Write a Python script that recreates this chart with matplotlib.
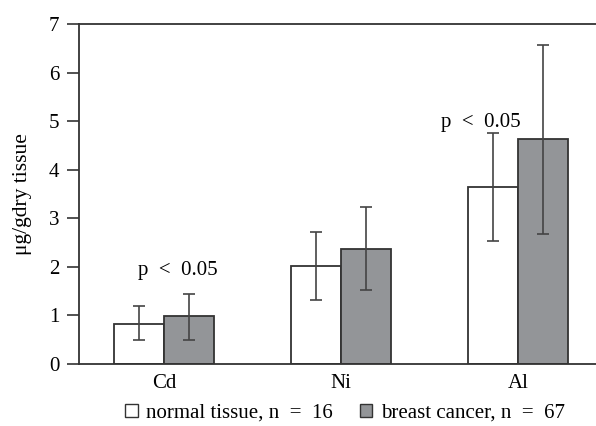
import matplotlib
matplotlib.use("Agg")
import matplotlib.pyplot as plt
import numpy as np
from matplotlib.patches import Patch

categories = ["Cd", "Ni", "Al"]
normal_vals = [0.83, 2.02, 3.64]
normal_lo = [0.50, 1.32, 2.53]
normal_hi = [1.20, 2.72, 4.75]
cancer_vals = [0.99, 2.37, 4.64]
cancer_lo = [0.50, 1.53, 2.68]
cancer_hi = [1.45, 3.23, 6.56]
yticks = [0, 1, 2, 3, 4, 5, 6, 7]

plt.rcParams['font.family'] = ['Liberation Serif', 'DejaVu Serif']

fig = plt.figure(figsize=(5.96, 4.26), dpi=100)
ax = fig.add_axes([79/596, 1-364/426, 1-79/596, (364-24)/426])

x = np.arange(len(categories))
w = 0.283
edge = '#333333'
nv = np.array(normal_vals); cv = np.array(cancer_vals)
nerr = [nv - np.array(normal_lo), np.array(normal_hi) - nv]
cerr = [cv - np.array(cancer_lo), np.array(cancer_hi) - cv]

ax.bar(x - w/2, nv, w, color='white', edgecolor=edge, linewidth=1.3, zorder=2)
ax.bar(x + w/2, cv, w, color='#939598', edgecolor=edge, linewidth=1.3, zorder=2)
ax.errorbar(x - w/2, nv, yerr=nerr, fmt='none', ecolor='#444444', elinewidth=1.2, capsize=4.5, capthick=1.2, zorder=3)
ax.errorbar(x + w/2, cv, yerr=cerr, fmt='none', ecolor='#444444', elinewidth=1.2, capsize=4.5, capthick=1.2, zorder=3)

ax.set_xlim(-0.48, 2.44)
ax.set_ylim(0, 7)
ax.set_yticks(yticks)
ax.set_xticks(x)
ax.set_xticklabels(categories)
ax.tick_params(axis='x', length=0, pad=7, labelsize=15)
ax.tick_params(axis='y', length=9, width=1.2, color=edge, labelsize=15, pad=5)
for s in ['left', 'bottom', 'top']:
    ax.spines[s].set_color(edge)
    ax.spines[s].set_linewidth(1.3)
ax.spines['right'].set_visible(False)

ax.set_ylabel('μg/gdry tissue', fontsize=15.5, labelpad=12)

ax.text(0.08, 1.83, 'p  <  0.05', ha='center', va='baseline', fontsize=15)
ax.text(1.79, 4.88, 'p  <  0.05', ha='center', va='baseline', fontsize=15)

handles = [Patch(facecolor='white', edgecolor=edge, linewidth=1.0),
           Patch(facecolor='#939598', edgecolor=edge, linewidth=1.0)]
fig.legend(handles, ['normal tissue, n  =  16', 'breast cancer, n  =  67'],
           loc='center', bbox_to_anchor=(345/596, 1-413/426), ncol=2,
           frameon=False, fontsize=15, handlelength=0.6, handleheight=0.6,
           handletextpad=0.4, columnspacing=1.3)

fig.savefig('out.png', dpi=100)
